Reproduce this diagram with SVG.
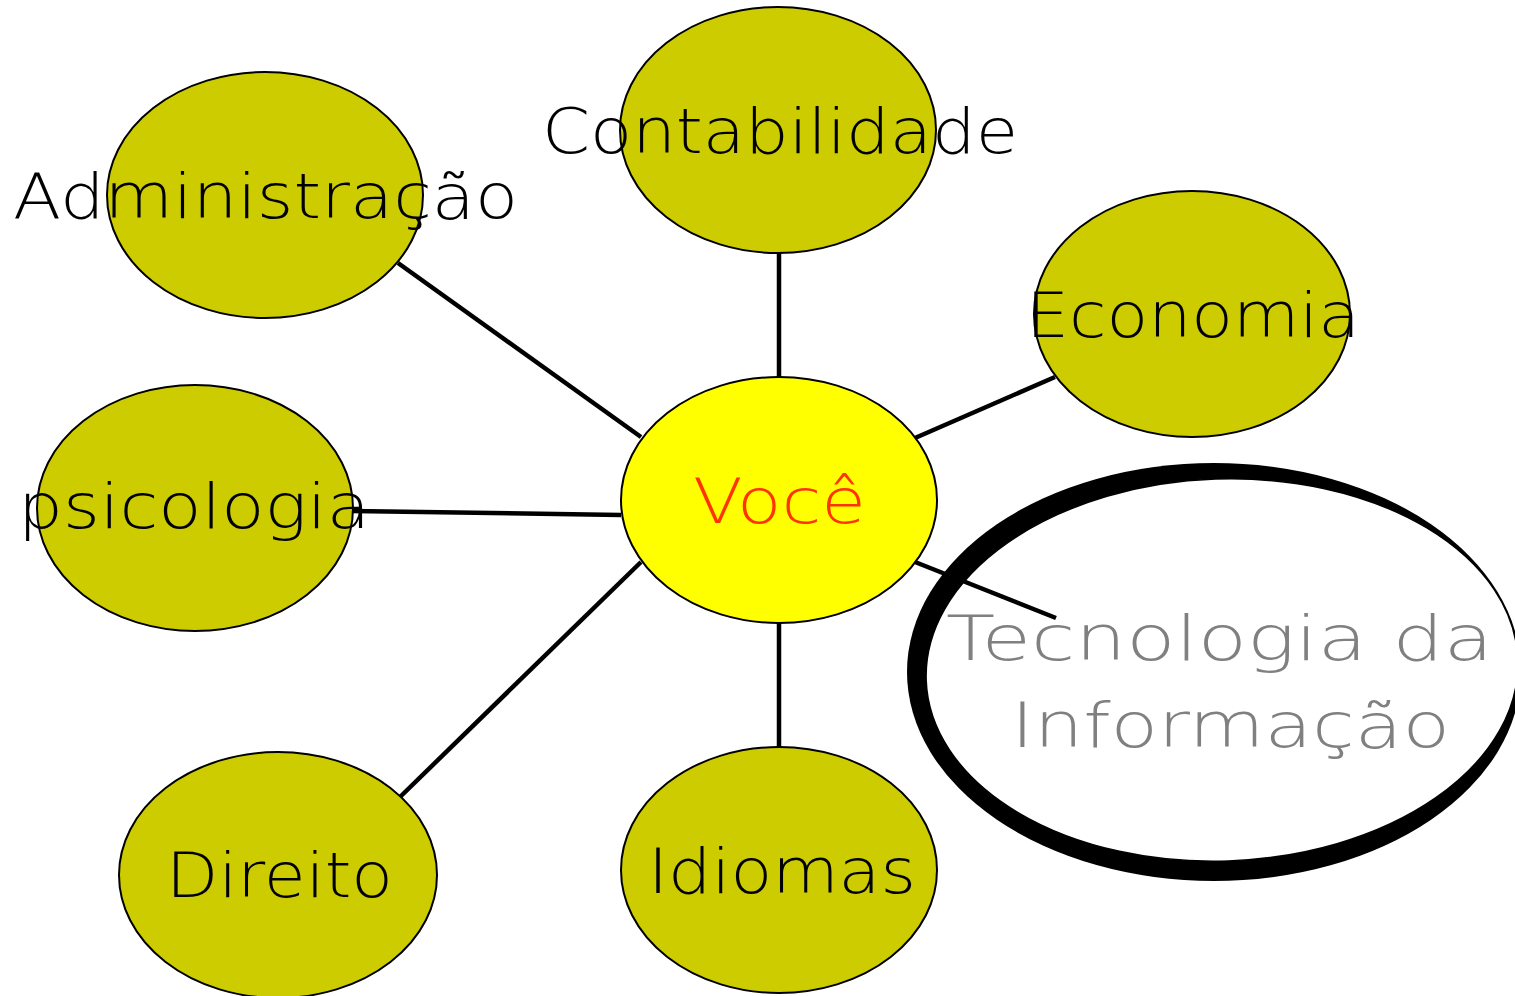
<svg xmlns="http://www.w3.org/2000/svg" width="1515" height="996" viewBox="0 0 1515 996">
  <style>
    .n { fill: #CCCC00; stroke: #000; stroke-width: 2; }
    .lbl { font-family: "DejaVu Sans", "Liberation Sans", Arial, sans-serif; font-weight: 200; font-size: 62px; fill: #000; }
    .con { stroke: #000; stroke-width: 4.5; fill: none; }
  </style>
  <rect width="1515" height="996" fill="#fff"/>
  <g id="node-contabilidade">
    <ellipse class="n" cx="778" cy="130" rx="158" ry="123"/>
    <text class="lbl" x="542" y="153" textLength="476" lengthAdjust="spacingAndGlyphs">Contabilidade</text>
  </g>
  <g id="node-administracao">
    <ellipse class="n" cx="265" cy="195" rx="158" ry="123"/>
    <text class="lbl" x="13" y="218" textLength="505" lengthAdjust="spacingAndGlyphs">Administração</text>
  </g>
  <g id="node-economia">
    <ellipse class="n" cx="1192" cy="314" rx="158" ry="123"/>
    <text class="lbl" x="1026" y="337" textLength="334" lengthAdjust="spacingAndGlyphs">Economia</text>
  </g>
  <g id="node-psicologia">
    <ellipse class="n" cx="195" cy="508" rx="158" ry="123"/>
    <text class="lbl" x="18" y="528" textLength="352" lengthAdjust="spacingAndGlyphs">psicologia</text>
  </g>
  <g id="node-direito">
    <ellipse class="n" cx="278" cy="875" rx="159" ry="123"/>
    <text class="lbl" x="166" y="897" textLength="227" lengthAdjust="spacingAndGlyphs">Direito</text>
  </g>
  <g id="node-idiomas">
    <ellipse class="n" cx="779" cy="870" rx="158" ry="123"/>
    <text class="lbl" x="648" y="893" textLength="268" lengthAdjust="spacingAndGlyphs">Idiomas</text>
  </g>
  <g id="node-ti">
    <ellipse cx="1214" cy="672" rx="307" ry="209" fill="#000"/>
    <ellipse cx="1222" cy="670" rx="296" ry="191" transform="rotate(-2 1222 670)" fill="#fff" stroke="#000" stroke-width="1.5"/>
    <text class="lbl" x="946" y="660" textLength="547" lengthAdjust="spacingAndGlyphs" style="fill:#808080">Tecnologia da</text>
    <text class="lbl" x="1011" y="747" textLength="439" lengthAdjust="spacingAndGlyphs" style="fill:#808080">Informação</text>
  </g>
  <g id="connectors">
    <line class="con" x1="779" y1="253" x2="779" y2="377"/>
    <line class="con" x1="398" y1="263" x2="641" y2="437"/>
    <line class="con" x1="1055" y1="377" x2="915" y2="438"/>
    <line class="con" x1="352" y1="511" x2="621" y2="515"/>
    <line class="con" x1="400" y1="797" x2="641" y2="562"/>
    <line class="con" x1="779" y1="747" x2="779" y2="623"/>
    <line class="con" x1="915" y1="562" x2="1056" y2="618"/>
  </g>
  <g id="node-voce">
    <ellipse cx="779" cy="500" rx="158" ry="123" fill="#FFFF00" stroke="#000" stroke-width="2"/>
    <text class="lbl" x="693" y="523" textLength="173" lengthAdjust="spacingAndGlyphs" style="fill:#FF3300">Você</text>
  </g>
</svg>
